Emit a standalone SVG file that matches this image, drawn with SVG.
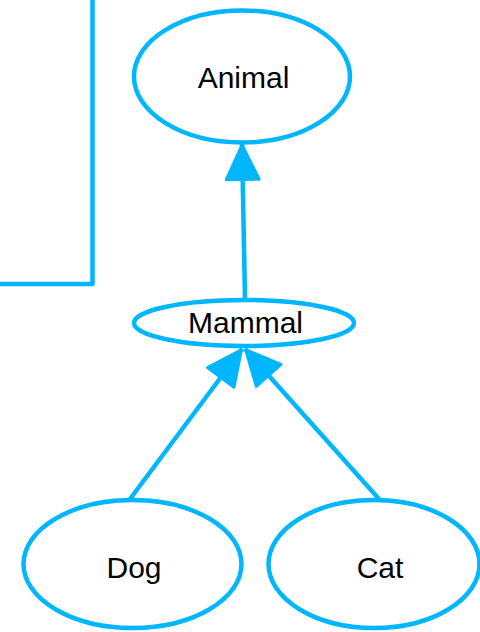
<svg xmlns="http://www.w3.org/2000/svg" width="480" height="632" viewBox="0 0 480 632">
  <style>
    .node ellipse { fill: #ffffff; stroke: #00b6ff; stroke-width: 4.5; }
    .node text { font-family: "Liberation Sans", Arial, sans-serif; font-size: 30px; fill: #000000; text-anchor: middle; }
    .edge { fill: none; stroke: #00b6ff; stroke-width: 4.5; stroke-linejoin: round; }
  </style>
  <defs>
    <marker id="arrow" markerUnits="userSpaceOnUse" viewBox="-4 -24 48 48" markerWidth="48" markerHeight="48" refX="37" refY="0" orient="auto" overflow="visible">
      <path d="M1.5,-16.5 L36,0 L1.5,16.5 Z" fill="#00b6ff" stroke="#00b6ff" stroke-width="3" stroke-linejoin="round"/>
    </marker>
  </defs>
  <rect width="480" height="632" fill="#ffffff"/>
  <g id="connectors">
    <polyline class="edge" points="92.5,0 92.5,284 0,284"/>
    <line class="edge" x1="245" y1="299" x2="242" y2="144" marker-end="url(#arrow)"/>
    <line class="edge" x1="130" y1="499" x2="242" y2="349" marker-end="url(#arrow)"/>
    <line class="edge" x1="379" y1="499" x2="245" y2="349" marker-end="url(#arrow)"/>
  </g>
  <g id="node-animal" class="node">
    <ellipse cx="242" cy="76.5" rx="108" ry="66"/>
    <text x="243.5" y="88">Animal</text>
  </g>
  <g id="node-mammal" class="node">
    <ellipse cx="244" cy="323" rx="110" ry="23"/>
    <text x="245.5" y="333">Mammal</text>
  </g>
  <g id="node-dog" class="node">
    <ellipse cx="132.5" cy="564" rx="109" ry="64"/>
    <text x="134" y="578">Dog</text>
  </g>
  <g id="node-cat" class="node">
    <ellipse cx="374" cy="564" rx="105.5" ry="64"/>
    <text x="380" y="578">Cat</text>
  </g>
</svg>
